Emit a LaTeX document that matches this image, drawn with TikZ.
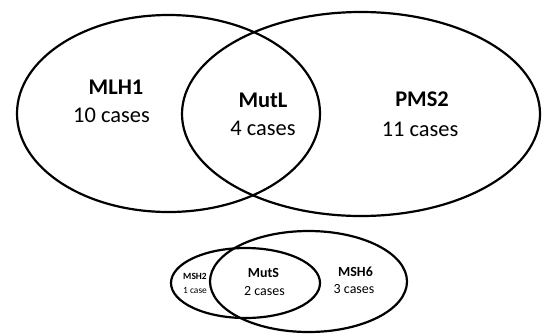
\documentclass[tikz,border=0pt]{standalone}
\usepackage{fontspec}
\setmainfont{Carlito}
\usetikzlibrary{positioning}

\begin{document}
\begin{tikzpicture}[x=1bp,y=-1bp]
\useasboundingbox (0,0) rectangle (542,335);
\tikzset{set/.style={line width=2.2bp, draw=black},
  big/.style={font=\fontsize{22.5}{24}\selectfont, inner sep=0pt},
  mid/.style={font=\fontsize{14}{16}\selectfont, inner sep=0pt},
  tiny/.style={font=\fontsize{9.5}{11}\selectfont, inner sep=0pt}}
% MutL
\draw[set] (168.5,113.5) ellipse [x radius=151.5, y radius=98.5];
\draw[set] (361,114) ellipse [x radius=179, y radius=102];
\node[big] (mlh) at (116,87.5) {\textbf{MLH1}};
\node[big] (mlhn) at (111.5,115) {10 cases};
\node[big] (mutl) at (263,100) {\textbf{MutL}};
\node[big] (mutln) at (263,128) {4 cases};
\node[big] (pms) at (422,99) {\textbf{PMS2}};
\node[big] (pmsn) at (420,129) {11 cases};
% MutS
\draw[set] (245.5,283) ellipse [x radius=74.5, y radius=35];
\draw[set] (308.5,281.5) ellipse [x radius=98.5, y radius=50.5];
\node[tiny] (msh2) at (195,276.5) {\textbf{MSH2}};
\node[tiny] (msh2n) at (195,290) {1 case};
\node[mid] (muts) at (263.5,272.5) {\textbf{MutS}};
\node[mid] (mutsn) at (264.5,291) {2 cases};
\node[mid] (msh6) at (355.5,271.5) {\textbf{MSH6}};
\node[mid] (msh6n) at (354,289) {3 cases};
\end{tikzpicture}
\end{document}
